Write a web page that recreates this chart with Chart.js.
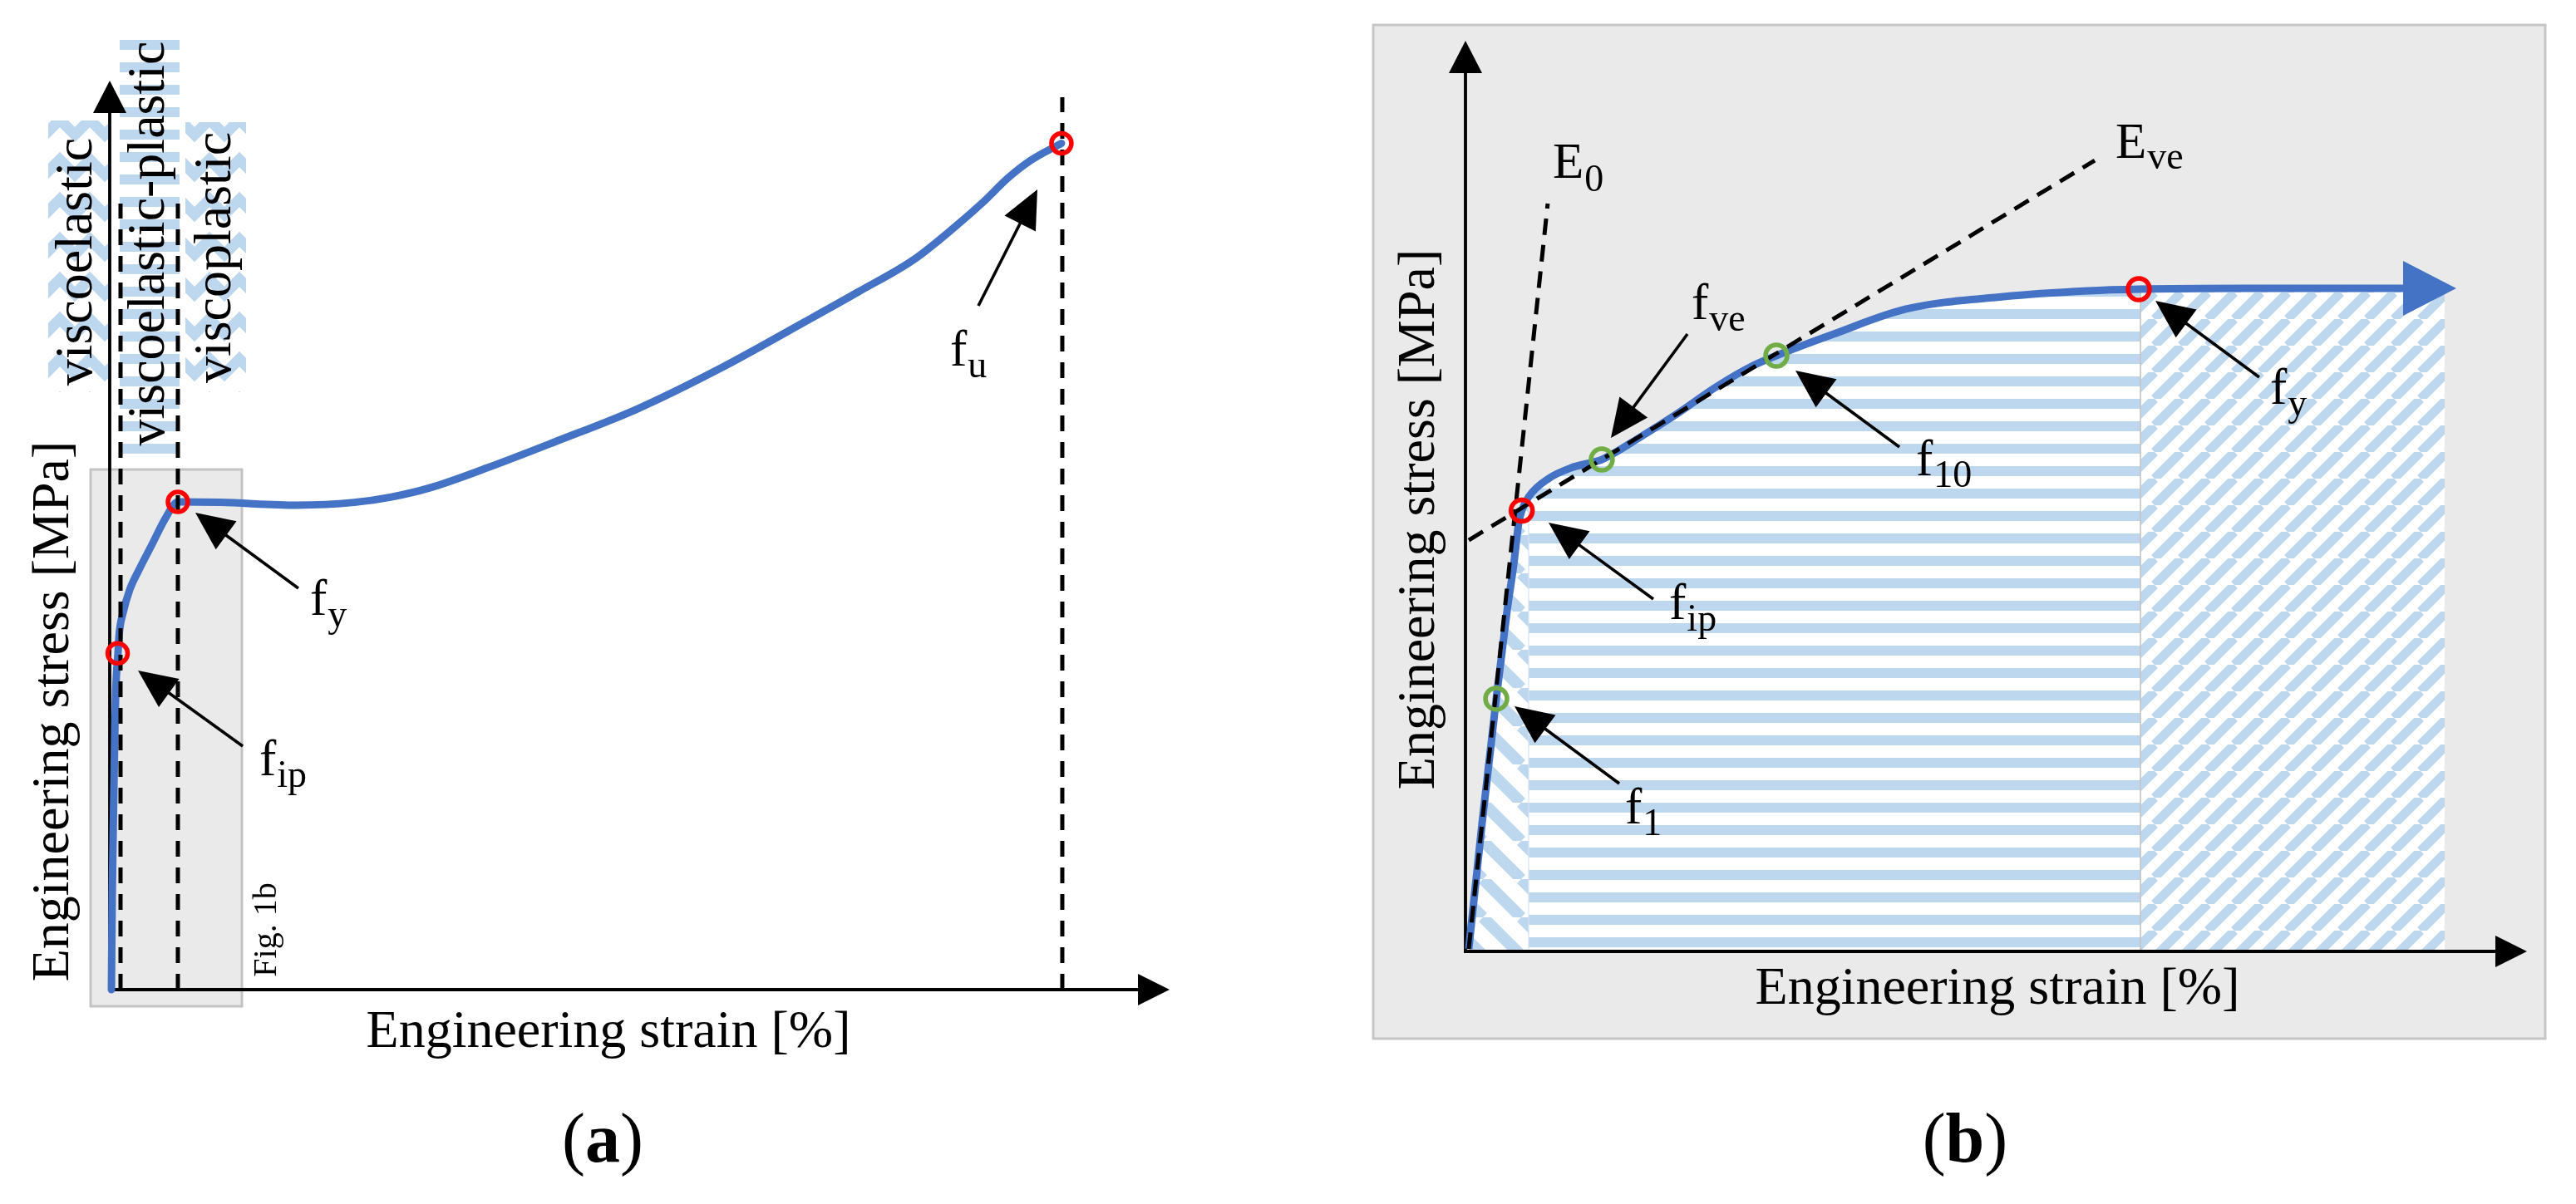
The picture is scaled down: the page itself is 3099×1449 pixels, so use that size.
<!DOCTYPE html>
<html><head><meta charset="utf-8">
<script src="https://cdn.jsdelivr.net/npm/chart.js@4.4.1/dist/chart.umd.min.js"></script>
<style>
html,body{margin:0;padding:0;background:#fff;width:3099px;height:1449px;overflow:hidden}
#wa{position:absolute;left:0;top:0;width:1600px;height:1449px}
#wb{position:absolute;left:1600px;top:0;width:1499px;height:1449px}
canvas{display:block}
</style></head><body>
<div id="wa"><canvas id="ca" width="1600" height="1449"></canvas></div>
<div id="wb"><canvas id="cb" width="1499" height="1449"></canvas></div>
<script>
// ===================== DATA (arbitrary units, axes run 0..100) =====================
// (a) full stress-strain curve
const curveAStrain = [0.16, 0.24, 0.35, 0.49, 0.57, 0.78, 0.90, 1.25, 1.88, 2.75, 3.92, 5.33, 6.43, 10.43, 17.65, 23.06, 26.59, 30.20, 35.61, 41.96, 49.80, 57.65, 65.49, 70.67, 75.92, 79.84, 82.43, 84.78, 86.90, 89.80];
const curveAStress = [0, 10.42, 19.10, 28.79, 32.91, 37.02, 39.21, 41.41, 43.97, 46.16, 48.81, 52.01, 53.66, 53.6, 53.3, 53.6, 54.2, 55.2, 57.4, 60.24, 63.89, 68.37, 73.40, 76.78, 80.35, 84.00, 86.65, 89.31, 91.22, 93.1];
const keyAMain   = ['f', 'f', 'f'];
const keyASub    = ['ip', 'y', 'u'];
const keyAStrain = [0.75, 6.43, 89.80];
const keyAStress = [37.0, 53.66, 93.1];
const phaseStrainA = [1.02, 6.43, 89.88];
const phaseTopA    = [86.47, 86.47, 98.17];
const phaseNamesA  = ['viscoelastic', 'viscoelastic-plastic', 'viscoplastic'];

// (b) zoom of the initial part
const curveBStrain = [0.31, 1.57, 2.90, 3.92, 4.54, 5.01, 5.30, 5.95, 7.83, 9.95, 12.06, 12.84, 16.60, 20.05, 23.57, 27.09, 29.29, 34.69, 41.50, 50.67, 58.65, 63.43, 73.37, 88.33];
const curveBStress = [0.27, 14.14, 27.74, 37.41, 42.43, 47.0, 48.4, 49.91, 51.92, 53.10, 53.74, 54.01, 56.57, 59.12, 61.95, 64.32, 65.42, 67.79, 70.53, 71.90, 72.54, 72.72, 72.81, 72.81];
const keyBMain   = ['f', 'f', 'f', 'f', 'f'];
const keyBSub    = ['1', 'ip', 've', '10', 'y'];
const keyBStrain = [2.90, 5.30, 12.84, 29.29, 63.43];
const keyBStress = [27.74, 48.4, 54.01, 65.42, 72.72];
const keyBKind   = ['green', 'red', 'green', 'green', 'red'];
const modE0Strain  = [0.31, 7.75];
const modE0Stress  = [0.27, 82.12];
const modEveStrain = [0.31, 59.28];
const modEveStress = [45.16, 86.86];
const modNames = [['E', '0'], ['E', 've']];
const phaseStrainB = [5.95, 63.59, 92.25];

const axisTitles = { y: 'Engineering stress [MPa]', x: 'Engineering strain [%]' };

// ===================== STYLE / ANNOTATION LAYOUT =====================
const FONT = '"Liberation Serif", "Times New Roman", serif';
const HATCH = '#BDD7EE';
const CURVE = '#4472C4';
const RED = '#FF0000';
const GREEN = '#70AD47';

const annA = {
  labels: [[14.12, 23.58], [18.90, 41.22], [79.29, 68.65]],
  arrows: [[[12.55, 26.78], [2.67, 35.10]], [[17.80, 44.15], [8.08, 52.47]], [[81.96, 75.23], [87.53, 88.03]]],
  figBox: [-1.80, 12.47, -1.83, 57.22],
  phaseBoxes: [[-5.80, -0.16, 65.72, 95.61, 'chev'], [0.94, 6.59, 58.87, 105.39, 'h'], [7.14, 12.86, 65.72, 95.43, 'chev']],
  phaseText: [[-1.73, 80.07], [5.10, 82.08], [11.37, 80.53]],
  figText: [15.69, 6.58],
  yTitle: [-3.92, 30.62], xTitle: [47.06, -6.31], panel: [46.51, -18.92]
};
const annB = {
  labels: [[15.04, 14.05], [19.19, 36.50], [21.30, 69.43], [42.44, 52.28], [75.80, 60.13]],
  arrows: [[[14.49, 18.43], [4.62, 26.92]], [[17.70, 38.69], [7.83, 47.08]], [[20.91, 67.79], [13.70, 56.39]], [[40.88, 55.38], [31.09, 63.78]], [[74.78, 63.05], [65.00, 71.44]]],
  modLabels: [[8.22, 84.95], [61.24, 87.14]],
  panelRect: [-8.69, 101.72, -9.58, 101.73],
  yTitle: [-2.98, 47.45], xTitle: [50.12, -5.75], panel: [47.06, -23.08]
};

// ===================== HELPERS =====================
function makeTile(w, h, draw) {
  const c = document.createElement('canvas'); c.width = w; c.height = h;
  const g = c.getContext('2d'); g.fillStyle = '#fff'; g.fillRect(0, 0, w, h);
  g.fillStyle = HATCH; g.strokeStyle = HATCH; draw(g, w, h); return c;
}
function patH(ctx) { return ctx.createPattern(makeTile(27, 27, g => { g.fillRect(0, 21, 27, 6); g.fillRect(0, 0, 27, 6); }), 'repeat'); }
function patDiag(ctx, dir, P, lw) {
  return ctx.createPattern(makeTile(P, P, g => {
    g.lineWidth = lw;
    for (let k = -1; k <= 1; k++) {
      g.beginPath();
      if (dir > 0) { g.moveTo(k * P, P); g.lineTo(k * P + P, 0); }
      else { g.moveTo(k * P, 0); g.lineTo(k * P + P, P); }
      g.stroke();
    }
  }), 'repeat');
}
function patChev(ctx) {
  const W = 36, H = 48;
  return ctx.createPattern(makeTile(W, H, g => {
    g.lineWidth = 13;
    for (const dy of [-H, 0, H]) { g.beginPath(); g.moveTo(-6, dy - 6); g.lineTo(W / 2, dy + W / 2); g.lineTo(W + 6, dy - 6); g.stroke(); }
  }), 'repeat');
}
function arrow(ctx, x1, y1, x2, y2, len = 46, half = 21, lw = 3.6, color = '#000') {
  const dx = x2 - x1, dy = y2 - y1, L = Math.hypot(dx, dy), ux = dx / L, uy = dy / L;
  const bx = x2 - ux * len, by = y2 - uy * len;
  ctx.save(); ctx.strokeStyle = color; ctx.fillStyle = color; ctx.lineWidth = lw;
  ctx.beginPath(); ctx.moveTo(x1, y1); ctx.lineTo(bx + ux * 3, by + uy * 3); ctx.stroke();
  ctx.beginPath(); ctx.moveTo(x2, y2); ctx.lineTo(bx - uy * half, by + ux * half); ctx.lineTo(bx + uy * half, by - ux * half); ctx.closePath(); ctx.fill();
  ctx.restore();
}
function subLabel(ctx, x, y, main, sub, size = 61, subSize = 46, drop = 14) {
  ctx.save(); ctx.fillStyle = '#000'; ctx.textAlign = 'left'; ctx.textBaseline = 'alphabetic';
  ctx.font = `${size}px ${FONT}`; ctx.fillText(main, x, y); const w = ctx.measureText(main).width;
  ctx.font = `${subSize}px ${FONT}`; ctx.fillText(sub, x + w + 1, y + drop); ctx.restore();
}
function vText(ctx, text, x, y, size) {
  ctx.save(); ctx.translate(x, y); ctx.rotate(-Math.PI / 2); ctx.font = `${size}px ${FONT}`;
  ctx.textAlign = 'center'; ctx.textBaseline = 'alphabetic'; ctx.fillStyle = '#000'; ctx.fillText(text, 0, 0); ctx.restore();
}
function hText(ctx, text, x, y, size) {
  ctx.save(); ctx.font = `${size}px ${FONT}`; ctx.textAlign = 'center'; ctx.textBaseline = 'alphabetic';
  ctx.fillStyle = '#000'; ctx.fillText(text, x, y); ctx.restore();
}
function panelTitle(ctx, letter, cx, y, size = 84) {
  ctx.save(); ctx.fillStyle = '#000'; ctx.textBaseline = 'alphabetic'; ctx.textAlign = 'left';
  const fN = `${size}px ${FONT}`, fB = `bold ${size}px ${FONT}`;
  ctx.font = fN; const wp = ctx.measureText('(').width, wq = ctx.measureText(')').width;
  ctx.font = fB; const wl = ctx.measureText(letter).width;
  let x = cx - (wp + wl + wq) / 2;
  ctx.font = fN; ctx.fillText('(', x, y); x += wp;
  ctx.font = fB; ctx.fillText(letter, x, y); x += wl;
  ctx.font = fN; ctx.fillText(')', x, y); ctx.restore();
}
function drawAxes(ctx, X, Y, o) {
  const x0 = X(0), y0 = Y(0), xt = X(100), yt = Y(100);
  ctx.save(); ctx.strokeStyle = '#000'; ctx.fillStyle = '#000'; ctx.lineWidth = o.lw;
  ctx.beginPath(); ctx.moveTo(x0, y0 + o.lw / 2); ctx.lineTo(x0, yt + o.yLen - 1); ctx.stroke();
  ctx.beginPath(); ctx.moveTo(x0 - o.lw / 2, y0); ctx.lineTo(xt - o.xLen + 1, y0); ctx.stroke();
  ctx.beginPath(); ctx.moveTo(x0, yt); ctx.lineTo(x0 - o.yHalf, yt + o.yLen); ctx.lineTo(x0 + o.yHalf, yt + o.yLen); ctx.closePath(); ctx.fill();
  ctx.beginPath(); ctx.moveTo(xt, y0); ctx.lineTo(xt - o.xLen, y0 - o.xHalf); ctx.lineTo(xt - o.xLen, y0 + o.xHalf); ctx.closePath(); ctx.fill();
  ctx.restore();
}
function yAt(xs, ys, x) {
  if (x <= xs[0]) return ys[0];
  for (let i = 1; i < xs.length; i++) if (x <= xs[i]) { const t = (x - xs[i - 1]) / (xs[i] - xs[i - 1]); return ys[i - 1] + t * (ys[i] - ys[i - 1]); }
  return ys[ys.length - 1];
}
function curveSlice(xs, ys, a, b) {
  const pts = [{ x: a, y: yAt(xs, ys, a) }];
  xs.forEach((x, i) => { if (x > a && x < b) pts.push({ x, y: ys[i] }); });
  pts.push({ x: b, y: yAt(xs, ys, b) });
  return pts;
}
const zip = (xs, ys) => xs.map((x, i) => ({ x, y: ys[i] }));
function baseOptions(pad) {
  return {
    responsive: false, animation: false, devicePixelRatio: 1,
    layout: { padding: pad },
    plugins: { legend: { display: false }, tooltip: { enabled: false } },
    scales: {
      x: { type: 'linear', display: false, min: 0, max: 100 },
      y: { type: 'linear', display: false, min: 0, max: 100 }
    },
    events: []
  };
}

// ===================== CHART (a) =====================
const ctxA = document.getElementById('ca').getContext('2d');
const patsA = { h: patH(ctxA), chev: patChev(ctxA) };
const dsA = [
  { label: 'keys', data: zip(keyAStrain, keyAStress), showLine: false, pointRadius: 12, pointBorderWidth: 5.5,
    pointBorderColor: RED, pointBackgroundColor: 'rgba(0,0,0,0)', order: 0, clip: false },
  { label: 'curve', data: zip(curveAStrain, curveAStress), showLine: true, borderColor: CURVE, borderWidth: 9,
    pointRadius: 0, cubicInterpolationMode: 'monotone', borderCapStyle: 'round', borderJoinStyle: 'round', order: 2, clip: false }
];
phaseStrainA.forEach((s, i) => dsA.push({
  label: 'phase' + i, data: [{ x: s, y: 0 }, { x: s, y: phaseTopA[i] }], showLine: true, borderColor: '#000',
  borderWidth: 5, borderDash: [19, 13], pointRadius: 0, order: 1, clip: false
}));
const pluginA = {
  id: 'decoA',
  beforeDatasetsDraw(chart) {
    const c = chart.ctx, X = v => chart.scales.x.getPixelForValue(v), Y = v => chart.scales.y.getPixelForValue(v);
    const fb = annA.figBox;
    c.save(); c.fillStyle = '#EAEAEA'; c.strokeStyle = '#C3C3C3'; c.lineWidth = 3;
    c.fillRect(X(fb[0]), Y(fb[3]), X(fb[1]) - X(fb[0]), Y(fb[2]) - Y(fb[3]));
    c.strokeRect(X(fb[0]), Y(fb[3]), X(fb[1]) - X(fb[0]), Y(fb[2]) - Y(fb[3]));
    annA.phaseBoxes.forEach(b => { c.fillStyle = patsA[b[4]]; c.fillRect(X(b[0]), Y(b[3]), X(b[1]) - X(b[0]), Y(b[2]) - Y(b[3])); });
    c.restore();
    drawAxes(c, X, Y, { lw: 3.8, yLen: 39, yHalf: 20, xLen: 38, xHalf: 19 });
  },
  afterDatasetsDraw(chart) {
    const c = chart.ctx, X = v => chart.scales.x.getPixelForValue(v), Y = v => chart.scales.y.getPixelForValue(v);
    phaseNamesA.forEach((t, i) => vText(c, t, X(annA.phaseText[i][0]), Y(annA.phaseText[i][1]), 64));
    vText(c, 'Fig. 1b', X(annA.figText[0]), Y(annA.figText[1]), 40);
    vText(c, axisTitles.y, X(annA.yTitle[0]), Y(annA.yTitle[1]), 64);
    hText(c, axisTitles.x, X(annA.xTitle[0]), Y(annA.xTitle[1]), 64);
    panelTitle(c, 'a', X(annA.panel[0]), Y(annA.panel[1]));
    annA.arrows.forEach(a => arrow(c, X(a[0][0]), Y(a[0][1]), X(a[1][0]), Y(a[1][1])));
    annA.labels.forEach((p, i) => subLabel(c, X(p[0]), Y(p[1]), keyAMain[i], keyASub[i]));
  }
};
new Chart(ctxA, { type: 'scatter', data: { datasets: dsA }, options: baseOptions({ left: 132, right: 193, top: 97, bottom: 258 }), plugins: [pluginA] });

// ===================== CHART (b) =====================
const ctxB = document.getElementById('cb').getContext('2d');
const patsB = [patDiag(ctxB, -1, 46, 14), patH(ctxB), patDiag(ctxB, 1, 32, 11)];
const regionBounds = [[curveBStrain[0], phaseStrainB[0]], [phaseStrainB[0], phaseStrainB[1]], [phaseStrainB[1], phaseStrainB[2]]];
const dsB = [
  { label: 'keys', data: zip(keyBStrain, keyBStress), showLine: false, pointRadius: 13, pointBorderWidth: 5.5,
    pointBorderColor: keyBKind.map(k => k === 'red' ? RED : GREEN), pointBackgroundColor: 'rgba(0,0,0,0)', order: 0, clip: false },
  { label: 'E0', data: zip(modE0Strain, modE0Stress), showLine: true, borderColor: '#000', borderWidth: 5,
    borderDash: [20, 12], pointRadius: 0, order: 1, clip: false },
  { label: 'Eve', data: zip(modEveStrain, modEveStress), showLine: true, borderColor: '#000', borderWidth: 5,
    borderDash: [20, 12], pointRadius: 0, order: 1, clip: false },
  { label: 'curve', data: zip(curveBStrain, curveBStress), showLine: true, borderColor: CURVE, borderWidth: 9,
    pointRadius: 0, cubicInterpolationMode: 'monotone', borderCapStyle: 'butt', borderJoinStyle: 'round', order: 2, clip: false }
];
regionBounds.forEach((r, i) => dsB.push({
  label: 'region' + i, data: curveSlice(curveBStrain, curveBStress, r[0], r[1]), showLine: true, fill: 'origin',
  backgroundColor: patsB[i], borderColor: 'rgba(0,0,0,0)', borderWidth: 1, pointRadius: 0,
  cubicInterpolationMode: 'monotone', order: 5 + (2 - i)
}));
const pluginB = {
  id: 'decoB',
  beforeDraw(chart) {
    const c = chart.ctx, X = v => chart.scales.x.getPixelForValue(v), Y = v => chart.scales.y.getPixelForValue(v);
    const r = annB.panelRect;
    c.save(); c.fillStyle = '#EAEAEA'; c.strokeStyle = '#C6C6C6'; c.lineWidth = 3;
    c.fillRect(X(r[0]), Y(r[3]), X(r[1]) - X(r[0]), Y(r[2]) - Y(r[3]));
    c.strokeRect(X(r[0]), Y(r[3]), X(r[1]) - X(r[0]), Y(r[2]) - Y(r[3]));
    c.restore();
  },
  afterDatasetDraw(chart, args) {
    if (chart.data.datasets[args.index].label !== 'region2') return;
    const c = chart.ctx, X = v => chart.scales.x.getPixelForValue(v), Y = v => chart.scales.y.getPixelForValue(v);
    c.save();
    [[phaseStrainB[0], '#D6E3F0', 1.2], [phaseStrainB[1], '#C4C4C4', 1.6]].forEach(([s, col, w]) => {
      c.strokeStyle = col; c.lineWidth = w; c.beginPath();
      c.moveTo(X(s), Y(yAt(curveBStrain, curveBStress, s)) + 4); c.lineTo(X(s), Y(0)); c.stroke();
    });
    c.restore();
    drawAxes(c, X, Y, { lw: 3.8, yLen: 39, yHalf: 20, xLen: 38, xHalf: 19 });
  },
  afterDatasetsDraw(chart) {
    const c = chart.ctx, X = v => chart.scales.x.getPixelForValue(v), Y = v => chart.scales.y.getPixelForValue(v);
    const n = curveBStrain.length;
    const x1 = X(curveBStrain[n - 2]), y1 = Y(curveBStress[n - 2]), x2 = X(curveBStrain[n - 1]), y2 = Y(curveBStress[n - 1]);
    const L = Math.hypot(x2 - x1, y2 - y1), ux = (x2 - x1) / L, uy = (y2 - y1) / L;
    c.save(); c.fillStyle = CURVE; c.beginPath();
    c.moveTo(x2 + ux * 64, y2 + uy * 64); c.lineTo(x2 - uy * 33, y2 + ux * 33); c.lineTo(x2 + uy * 33, y2 - ux * 33); c.closePath(); c.fill();
    c.restore();
    vText(c, axisTitles.y, X(annB.yTitle[0]), Y(annB.yTitle[1]), 64);
    hText(c, axisTitles.x, X(annB.xTitle[0]), Y(annB.xTitle[1]), 64);
    panelTitle(c, 'b', X(annB.panel[0]), Y(annB.panel[1]));
    modNames.forEach((m, i) => subLabel(c, X(annB.modLabels[i][0]), Y(annB.modLabels[i][1]), m[0], m[1], 61, 46, i === 0 ? 16 : 13));
    annB.arrows.forEach(a => arrow(c, X(a[0][0]), Y(a[0][1]), X(a[1][0]), Y(a[1][1])));
    annB.labels.forEach((p, i) => subLabel(c, X(p[0]), Y(p[1]), keyBMain[i], keyBSub[i]));
  }
};
new Chart(ctxB, { type: 'scatter', data: { datasets: dsB }, options: baseOptions({ left: 163, right: 59, top: 49, bottom: 304 }), plugins: [pluginB] });
</script>
</body></html>
